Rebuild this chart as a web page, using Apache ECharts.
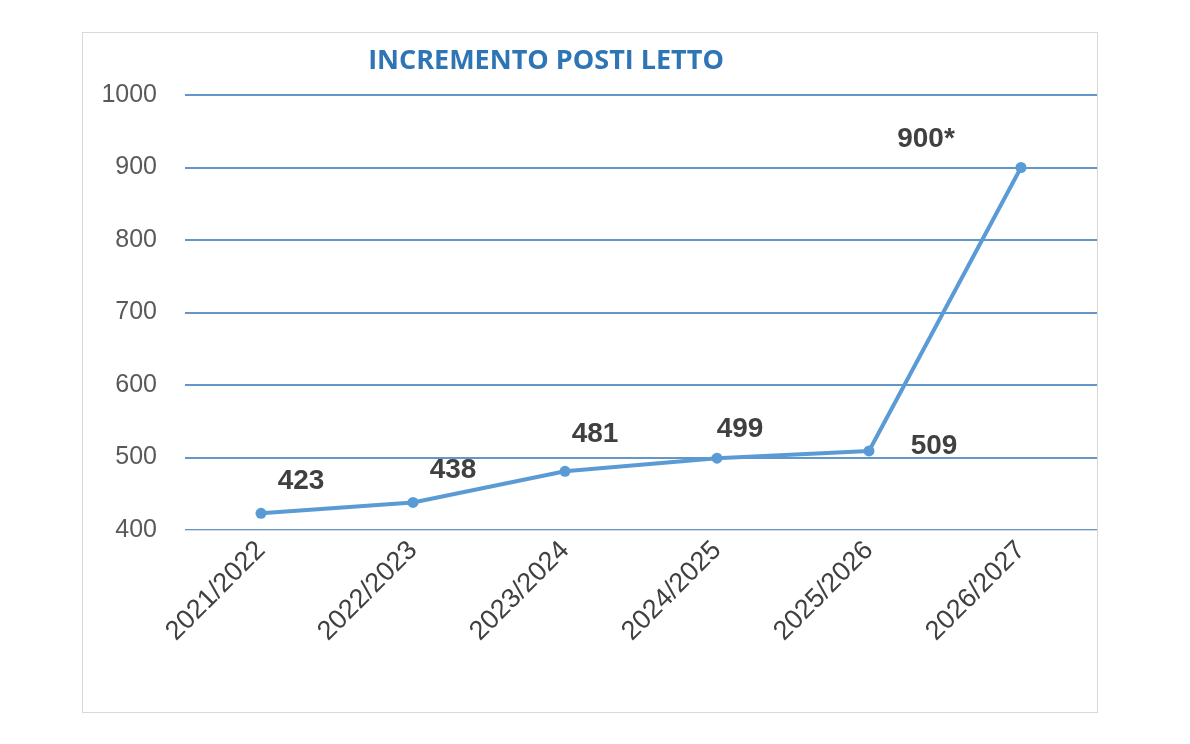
<!DOCTYPE html>
<html><head><meta charset="utf-8">
<script src="https://cdn.jsdelivr.net/npm/echarts@6/dist/echarts.min.js"></script>
<style>html,body{margin:0;background:#fff}#c{width:1190px;height:744px}
#box{position:absolute;left:82px;top:32px;width:1014px;height:679px;border:1px solid #d9d9d9}</style>
</head><body><div id="box"></div><div id="c" style="position:absolute;left:0;top:0"></div>
<script>
const categories=["2021/2022","2022/2023","2023/2024","2024/2025","2025/2026","2026/2027"];
const values=[423,438,481,499,509,900];
const labels=["423","438","481","499","509","900*"];
const yTicks=[400,500,600,700,800,900,1000];
const offs=[[40,-8],[40,-8],[30,-12],[23,-4],[65,20],[-95,-4]];
const chart=echarts.init(document.getElementById('c'));
chart.setOption({
 title:{text:'INCREMENTO POSTI LETTO',left:541,top:43,textAlign:'center',textStyle:{color:'#2e75b6',fontSize:27,fontWeight:'bold',fontFamily:'Open Sans'}},
 grid:{left:185,right:93,top:95,bottom:214},
 xAxis:{type:'category',data:categories,boundaryGap:true,axisLine:{lineStyle:{color:'#d9d9d9'}},axisTick:{show:false},
  axisLabel:{rotate:45,fontSize:27,color:'#404040',margin:16,fontFamily:'Liberation Sans'}},
 yAxis:{type:'value',min:400,max:1000,interval:100,axisLine:{show:false},axisTick:{show:false},
  axisLabel:{fontSize:25,color:'#595959',margin:28,fontFamily:'Liberation Sans',formatter:v=>yTicks.includes(v)?String(v):''},
  splitLine:{lineStyle:{color:'#2e75b6',width:1.5}}},
 series:[{type:'line',data:values.map((v,i)=>({value:v,label:{offset:offs[i],formatter:labels[i]}})),
  symbol:'circle',symbolSize:11,lineStyle:{color:'#5b9bd5',width:4},itemStyle:{color:'#5b9bd5'},
  label:{show:true,position:'top',fontSize:28,fontWeight:'bold',color:'#404040',fontFamily:'Liberation Sans'}}]
});
</script></body></html>
